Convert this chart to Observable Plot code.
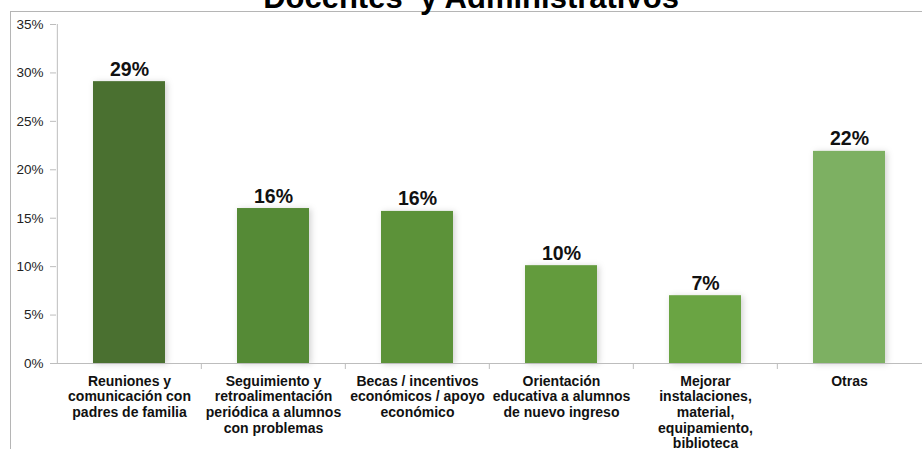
<!DOCTYPE html>
<html>
<head>
<meta charset="utf-8">
<script src="https://cdn.jsdelivr.net/npm/d3@7"></script>
<script src="https://cdn.jsdelivr.net/npm/@observablehq/plot@0.6"></script>
<style>
  html, body { margin: 0; padding: 0; background: #fff; overflow: hidden; }
  #wrap { position: relative; width: 922px; height: 449px; font-family: "Liberation Sans", Arial, sans-serif; }
  #title { position: absolute; left: 0; width: 942px; top: -22px; text-align: center; font-size: 31px; font-weight: bold; color: #000; line-height: 40px; white-space: pre; }
  #frame { position: absolute; left: 10px; top: 11px; right: -2px; bottom: -2px; border-top: 1px solid #b5b5b5; border-left: 1px solid #b5b5b5; pointer-events: none; }
  #chart { position: absolute; left: 0; top: 0; }
</style>
</head>
<body>
<div id="wrap">
  <div id="chart"></div>
  <div id="frame"></div>
  <div id="title">Docentes  y Administrativos</div>
</div>
<script>
const categories = [
  "Reuniones y\ncomunicación con\npadres de familia",
  "Seguimiento y\nretroalimentación\nperiódica a alumnos\ncon problemas",
  "Becas / incentivos\neconómicos / apoyo\neconómico",
  "Orientación\neducativa a alumnos\nde nuevo ingreso",
  "Mejorar\ninstalaciones,\nmaterial,\nequipamiento,\nbiblioteca",
  "Otras"
];
const values = [29.1, 16.0, 15.7, 10.1, 7.0, 21.9];
const valueLabels = ["29%", "16%", "16%", "10%", "7%", "22%"];
const yTicks = [0, 5, 10, 15, 20, 25, 30, 35];
const palette = ["#4a7030", "#558a36", "#5c9239", "#639b3d", "#6aa443", "#7db062"];

const data = categories.map((c, i) => ({cat: c, value: values[i], label: valueLabels[i]}));

const W = 922, H = 449, mL = 56, mR = 0;
const bw = (W - mL - mR) / categories.length;

const plot = Plot.plot({
  width: W,
  height: H,
  marginLeft: mL,
  marginRight: mR,
  marginTop: 24,
  marginBottom: 86,
  style: {fontFamily: "'Liberation Sans', Arial, sans-serif", background: "transparent", overflow: "visible"},
  x: {domain: categories, paddingInner: 0.5, paddingOuter: 0.25, axis: null},
  y: {domain: [0, 35], axis: null},
  color: {domain: categories, range: palette},
  marks: [
    Plot.barY(data, {x: "cat", y: "value", fill: "cat"}),
    Plot.ruleY([0], {stroke: "#bdbdbd"}),
    Plot.ruleX([categories[0]], {x: d => d, dx: -bw / 2, y1: 0, y2: 35, stroke: "#bdbdbd"}),
    Plot.axisY(yTicks, {tickSize: 6, tickPadding: 7, tickFormat: d => d + "%", fontSize: 13.5, color: "#222", stroke: "#bdbdbd", label: null}),
    Plot.axisX(categories.slice(1), {tickSize: 6, tickFormat: () => "", dx: -bw / 2, stroke: "#bdbdbd", label: null}),
    Plot.axisX(categories, {tickSize: 0, tickPadding: 11, fontSize: 14, fontWeight: "bold", lineHeight: 1.12, color: "#111", label: null}),
    Plot.text(data, {x: "cat", y: "value", text: "label", dy: -6, lineAnchor: "bottom", fontSize: 19.5, fontWeight: "bold", fill: "#111"})
  ]
});
document.getElementById("chart").appendChild(plot);
d3.select(plot).selectAll("g[aria-label='bar'] rect").style("filter", "drop-shadow(2px 1px 3px rgba(0,0,0,0.18))");
</script>
</body>
</html>
